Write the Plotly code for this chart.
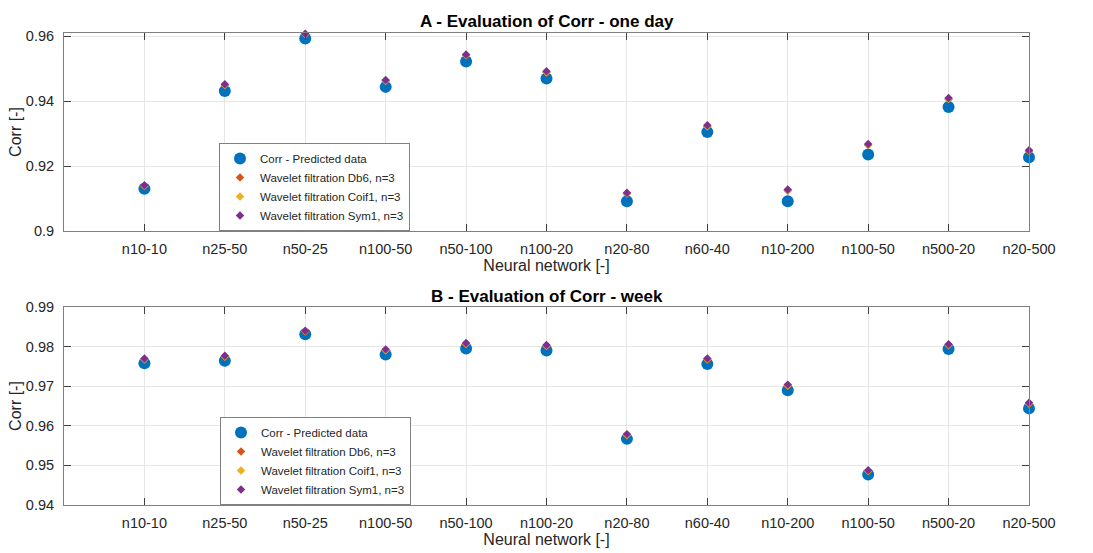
import plotly.graph_objects as go
from plotly.subplots import make_subplots

tick_labels = ["n10-10", "n25-50", "n50-25", "n100-50", "n50-100", "n100-20",
               "n20-80", "n60-40", "n10-200", "n100-50", "n500-20", "n20-500"]
positions = list(range(1, 13))

# A - one day
day_pred = [0.9130, 0.9431, 0.9593, 0.9444, 0.9522, 0.9470,
            0.9092, 0.9305, 0.9092, 0.9236, 0.9382, 0.9227]
day_db6 = [0.9138, 0.9449, 0.9605, 0.9462, 0.9541, 0.9488,
           0.9115, 0.9322, 0.9124, 0.9265, 0.9406, 0.9246]
day_coif1 = [0.9139, 0.9450, 0.9606, 0.9463, 0.9542, 0.9489,
             0.9116, 0.9323, 0.9125, 0.9266, 0.9407, 0.9247]
day_sym1 = [0.9141, 0.9452, 0.9608, 0.9465, 0.9544, 0.9492,
            0.9118, 0.9326, 0.9128, 0.9268, 0.9410, 0.9249]

# B - week
week_pred = [0.9758, 0.9764, 0.9831, 0.9780, 0.9795, 0.9790,
             0.9567, 0.9756, 0.9690, 0.9477, 0.9794, 0.9644]
week_db6 = [0.9767, 0.9774, 0.9838, 0.9790, 0.9806, 0.9801,
            0.9576, 0.9767, 0.9701, 0.9485, 0.9803, 0.9655]
week_coif1 = [0.9768, 0.9775, 0.9839, 0.9791, 0.9807, 0.9802,
              0.9577, 0.9768, 0.9702, 0.9486, 0.9804, 0.9656]
week_sym1 = [0.9770, 0.9777, 0.9840, 0.9793, 0.9809, 0.9804,
             0.9579, 0.9770, 0.9704, 0.9488, 0.9806, 0.9658]

series_names = ["Corr - Predicted data", "Wavelet filtration Db6, n=3",
                "Wavelet filtration Coif1, n=3", "Wavelet filtration Sym1, n=3"]
colors = ["#0072BD", "#D95319", "#EDB120", "#7E2F8E"]

FONT = "Liberation Sans, Arial, sans-serif"
TXT = "#262626"

W, H = 1093, 553
ml, mr, mt, mb = 64, 64, 33, 48
ph = H - mt - mb

def py(pix):
    return (H - mb - pix) / ph

def px(pix):
    return (pix - ml) / (W - ml - mr)

fig = make_subplots(rows=2, cols=1, vertical_spacing=0.0)

def add_group(row, data, legend):
    for i, (name, vals) in enumerate(zip(series_names, data)):
        if i == 0:
            marker = dict(symbol="circle", size=12, color=colors[i])
        else:
            marker = dict(symbol="diamond", size=6.5, color=colors[i])
        fig.add_trace(go.Scatter(x=positions, y=vals, mode="markers", name=name,
                                 marker=marker, legend=legend, cliponaxis=False),
                      row=row, col=1)

add_group(1, [day_pred, day_db6, day_coif1, day_sym1], "legend")
add_group(2, [week_pred, week_db6, week_coif1, week_sym1], "legend2")

axis_common = dict(showline=True, linecolor="#808080", linewidth=1, mirror="ticks",
                   ticks="inside", ticklen=7, tickcolor="#404040",
                   showgrid=True, gridcolor="#e6e6e6", zeroline=False,
                   automargin=False,
                   tickfont=dict(family=FONT, size=14.5, color=TXT))

title_font = dict(family=FONT, size=16, color=TXT)

for r in (1, 2):
    fig.update_xaxes(range=[0, 12], tickvals=positions, ticktext=tick_labels,
                     ticklabelstandoff=5,
                     title=dict(text="Neural network [-]", standoff=3, font=title_font),
                     row=r, col=1, **axis_common)

fig.update_yaxes(range=[0.9, 0.961], tickvals=[0.9, 0.92, 0.94, 0.96],
                 ticktext=["0.9", "0.92", "0.94", "0.96"], row=1, col=1,
                 ticklabelstandoff=6,
                 title=dict(text="Corr [-]", standoff=0, font=title_font),
                 **axis_common)
fig.update_yaxes(range=[0.94, 0.99], tickvals=[0.94, 0.95, 0.96, 0.97, 0.98, 0.99],
                 ticktext=["0.94", "0.95", "0.96", "0.97", "0.98", "0.99"], row=2, col=1,
                 ticklabelstandoff=6,
                 title=dict(text="Corr [-]", standoff=0, font=title_font),
                 **axis_common)

fig.update_layout(
    yaxis=dict(domain=[py(231), 1.0]),
    yaxis2=dict(domain=[0.0, py(307)]),
)

legend_common = dict(bgcolor="white", bordercolor="#808080", borderwidth=1,
                     font=dict(family=FONT, size=11.5, color=TXT),
                     xanchor="left", yanchor="bottom", tracegroupgap=0,
                     itemwidth=30)

fig.update_layout(
    width=W, height=H,
    margin=dict(l=ml, r=mr, t=mt, b=mb),
    paper_bgcolor="white", plot_bgcolor="white",
    font=dict(family=FONT, color=TXT),
    legend=dict(x=px(219), y=py(231), **legend_common),
    legend2=dict(x=px(220), y=py(505), **legend_common),
    annotations=[
        dict(text="<b>A - Evaluation of Corr - one day</b>", x=0.5, xref="paper",
             y=py(21), yref="paper", showarrow=False, xanchor="center", yanchor="middle",
             font=dict(family=FONT, size=17, color="black")),
        dict(text="<b>B - Evaluation of Corr - week</b>", x=0.5, xref="paper",
             y=py(296), yref="paper", showarrow=False, xanchor="center", yanchor="middle",
             font=dict(family=FONT, size=17, color="black")),
    ],
)

fig.write_html("out.html")
